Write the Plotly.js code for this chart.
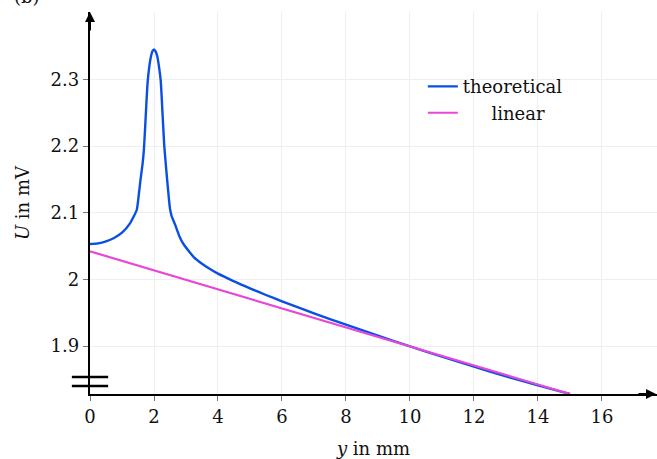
<!DOCTYPE html>
<html>
<head>
<meta charset="utf-8">
<script src="https://cdn.plot.ly/plotly-3.0.1.min.js"></script>
<style>html,body{margin:0;padding:0;background:#fff;}#chart{width:657px;height:459px;}</style>
</head>
<body>
<div id="chart"></div>
<script>
// Data
const theoX = [0, 0.25, 0.5, 0.75, 1.0, 1.25, 1.46, 1.52, 1.58, 1.64, 1.68, 1.72, 1.76, 1.80, 1.85, 1.90, 1.95, 2.00, 2.05, 2.10, 2.15, 2.21, 2.26, 2.32, 2.41, 2.50, 2.55, 2.66, 2.80, 2.92, 3.25, 3.5, 3.75, 4.0, 4.5, 5.0, 5.5, 6.0, 7.0, 8.0, 9.0, 10.0, 11.0, 12.0, 13.0, 14.0, 15.0];
const theoY = [2.053, 2.054, 2.057, 2.062, 2.070, 2.084, 2.104, 2.125, 2.150, 2.172, 2.192, 2.225, 2.262, 2.295, 2.318, 2.333, 2.342, 2.345, 2.342, 2.335, 2.321, 2.298, 2.255, 2.201, 2.150, 2.106, 2.095, 2.082, 2.064, 2.053, 2.033, 2.0235, 2.0155, 2.0085, 1.997, 1.9865, 1.9765, 1.967, 1.949, 1.932, 1.9155, 1.8995, 1.884, 1.869, 1.8545, 1.841, 1.828];
const linX = [0, 15];
const linY = [2.042, 1.828];
const yTickVals = [1.9, 2.0, 2.1, 2.2, 2.3];
const yTickText = ['1.9', '2', '2.1', '2.2', '2.3'];
const xTickVals = [0, 2, 4, 6, 8, 10, 12, 14, 16];
const xTickText = ['0', '2', '4', '6', '8', '10', '12', '14', '16'];
const seriesNames = ['theoretical', 'linear'];

const FONT = 'DejaVu Serif, Liberation Serif, serif';
const FS = 18;
const traces = [
  {x: theoX, y: theoY, type: 'scatter', mode: 'lines', name: seriesNames[0],
   line: {color: '#0a4fe3', width: 2.4, shape: 'spline', smoothing: 0.5}},
  {x: linX, y: linY, type: 'scatter', mode: 'lines', name: '&nbsp;&nbsp;&nbsp;&nbsp;&nbsp;' + seriesNames[1],
   line: {color: '#e847d8', width: 2.2}}
];

const yMin = 1.828, yMax = 2.401;
const layout = {
  width: 657, height: 459,
  margin: {l: 90, r: 0, t: 12, b: 65},
  paper_bgcolor: '#fff', plot_bgcolor: '#fff',
  font: {family: FONT, size: FS, color: '#111'},
  showlegend: true,
  legend: {x: 0.587, y: 0.853, xanchor: 'left', yanchor: 'top', bgcolor: 'rgba(0,0,0,0)',
           font: {family: FONT, size: FS, color: '#111'}, tracegroupgap: 0},
  xaxis: {range: [0, 17.72], tickvals: xTickVals, ticktext: xTickText,
          showgrid: true, gridcolor: '#efefef', gridwidth: 1, zeroline: false,
          showline: true, linecolor: '#000', linewidth: 2.2,
          ticks: 'outside', ticklen: 5, tickcolor: '#777', tickwidth: 1,
          tickfont: {family: FONT, size: FS, color: '#111'},
          title: {text: '<i>y</i> in mm', font: {family: FONT, size: FS, color: '#111'}, standoff: 18}},
  yaxis: {range: [yMin, yMax], tickvals: yTickVals, ticktext: yTickText,
          showgrid: true, gridcolor: '#efefef', gridwidth: 1, zeroline: false,
          showline: true, linecolor: '#000', linewidth: 2.2,
          ticks: 'outside', ticklen: 5, tickcolor: '#777', tickwidth: 1,
          tickfont: {family: FONT, size: FS, color: '#111'},
          title: {text: '<i>U</i> in mV', font: {family: FONT, size: FS, color: '#111'}, standoff: 16}},
  shapes: [
    {type: 'line', xref: 'paper', yref: 'y', x0: -0.032, x1: 0.032, y0: 1.8535, y1: 1.8535, line: {color: '#000', width: 2.4}},
    {type: 'line', xref: 'paper', yref: 'y', x0: -0.032, x1: 0.032, y0: 1.840, y1: 1.840, line: {color: '#000', width: 2.4}}
  ],
  annotations: [
    {xref: 'x', yref: 'y', axref: 'x', ayref: 'y', x: 0, y: yMax, ax: 0, ay: yMax - 0.03,
     showarrow: true, arrowhead: 2, arrowsize: 1, arrowwidth: 2, arrowcolor: '#000', text: ''},
    {xref: 'paper', yref: 'y', x: 1.0, y: yMin, ax: -20, ay: 0,
     showarrow: true, arrowhead: 2, arrowsize: 1, arrowwidth: 2, arrowcolor: '#000', text: ''},
    {xref: 'paper', yref: 'paper', x: -0.111, y: 1.008, xanchor: 'center', yanchor: 'bottom',
     text: '(b)', showarrow: false, font: {family: FONT, size: FS, color: '#111'}}
  ]
};

Plotly.newPlot('chart', traces, layout, {displayModeBar: false, staticPlot: true});
</script>
</body>
</html>
